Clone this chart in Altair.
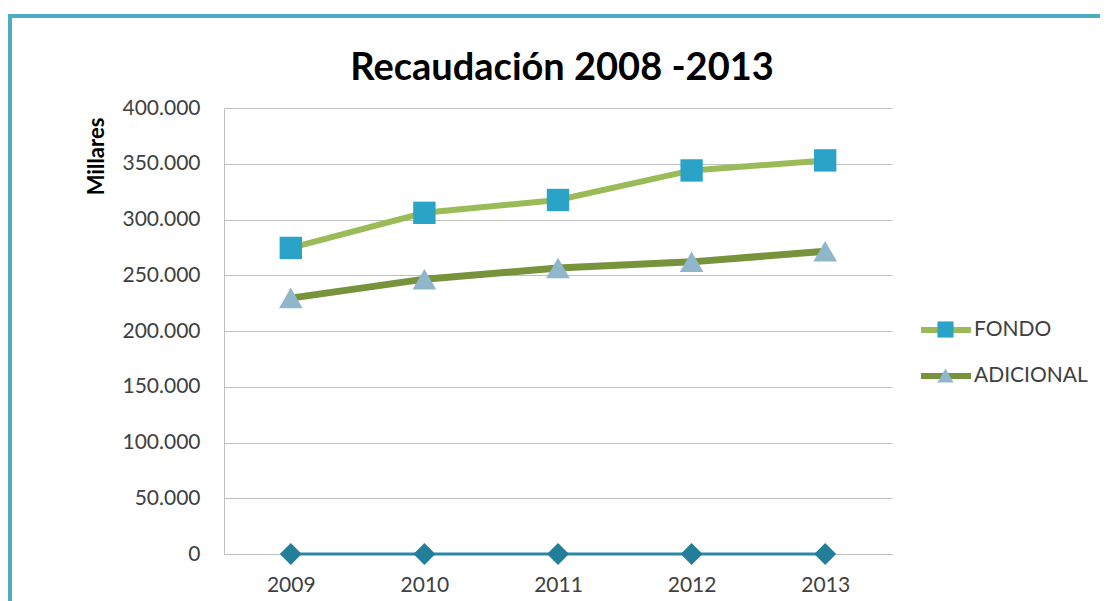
import altair as alt
import pandas as pd

years = ["2009", "2010", "2011", "2012", "2013"]
fondo = [274500, 306000, 317500, 344000, 353000]
adicional = [229500, 246500, 256500, 262000, 271500]
serie3 = [0, 0, 0, 0, 0]

series_names = ["FONDO", "ADICIONAL"]
marker_keys = ["m-FONDO", "m-ADICIONAL"]
size_keys = ["s-FONDO", "s-ADICIONAL"]
width_keys = ["w-FONDO", "w-ADICIONAL"]
line_colors = ["#9BBB59", "#77933C"]
line_widths = [6, 7]
marker_shapes = ["square", "triangle-up"]
marker_colors = ["#2AA3C6", "#8FB6CB"]
marker_sizes = [500, 560]

rows = []
for name, key, sk, wk, vals in zip(series_names, marker_keys, size_keys, width_keys, [fondo, adicional]):
    for yr, v in zip(years, vals):
        rows.append({"year": yr, "value": v, "series": name, "marker": key, "sz": sk, "w": wk})
df = pd.DataFrame(rows)
df3 = pd.DataFrame({"year": years, "value": serie3})

FONT = "Lato"
LABEL = "#404040"

x_enc = alt.X(
    "year:N", sort=years,
    scale=alt.Scale(type="point", padding=0.5),
    axis=alt.Axis(title=None, labelAngle=0, ticks=False, domain=True, domainColor="#BFBFBF",
                  labelFont=FONT, labelFontSize=21, labelColor=LABEL, labelPadding=20, grid=False),
)
y_enc = alt.Y(
    "value:Q",
    scale=alt.Scale(domain=[0, 400000], nice=False),
    axis=alt.Axis(
        values=list(range(0, 400001, 50000)),
        labelExpr="replace(format(datum.value, ','), ',', '.')",
        title="Millares", titleFont=FONT, titleFontSize=22, titleFontWeight="bold", titleColor="black",
        titleX=-128, titleY=48, titleAngle=270, titleAlign="center", titleBaseline="middle",
        ticks=False, labelPadding=24, labelFont=FONT, labelFontSize=21, labelColor=LABEL,
        grid=True, gridColor="#BFBFBF", gridWidth=1, domain=True, domainColor="#BFBFBF",
    ),
)

base = alt.Chart(df)

lines = base.mark_line().encode(
    x=x_enc, y=y_enc,
    color=alt.Color("series:N", scale=alt.Scale(domain=series_names, range=line_colors),
                    legend=alt.Legend(title=None, orient="none",
                                      legendX=694, legendY=194, symbolType="stroke", symbolSize=2500,
                                      symbolStrokeWidth=6, labelFont=FONT, labelFontSize=21,
                                      labelColor=LABEL, labelOffset=0, rowPadding=6, padding=0)),
    strokeWidth=alt.StrokeWidth("w:N", scale=alt.Scale(domain=width_keys, range=line_widths),
                                legend=None),
    detail="series:N",
)

mk_legend = alt.Legend(title=None, orient="none",
                       legendX=711, legendY=211, symbolSize=260, symbolStrokeWidth=0,
                       labelExpr="''", labelFontSize=21, rowPadding=24, padding=0)

points = base.mark_point(filled=True, opacity=1, strokeWidth=0).encode(
    x=x_enc, y=y_enc,
    shape=alt.Shape("marker:N", scale=alt.Scale(domain=marker_keys, range=marker_shapes), legend=mk_legend),
    fill=alt.Fill("marker:N", scale=alt.Scale(domain=marker_keys, range=marker_colors), legend=mk_legend),
    size=alt.Size("sz:N", scale=alt.Scale(domain=size_keys, range=marker_sizes), legend=None),
)

base3 = alt.Chart(df3)
line3 = base3.mark_line(color="#2B87A3", strokeWidth=3).encode(x=x_enc, y=y_enc)
points3 = base3.mark_point(filled=True, opacity=1, strokeWidth=0, shape="diamond",
                           size=480, color="#237F99").encode(x=x_enc, y=y_enc)

deco = alt.Chart(pd.DataFrame({"t": ["Recaudación 2008 -2013"]}))
title = deco.mark_text(font=FONT, fontSize=38, fontWeight="bold", color="black",
                       align="center", baseline="alphabetic").encode(
    text="t:N", x=alt.value(338), y=alt.value(-28))
frame = deco.mark_rect(fillOpacity=0, stroke="#4BACC6", strokeWidth=4).encode(
    x=alt.value(-214), x2=alt.value(1000), y=alt.value(-92), y2=alt.value(700))

chart = alt.layer(frame, lines, points, line3, points3, title).properties(
    width=668, height=446,
    padding={"left": 216, "top": 100, "right": 208, "bottom": 47},
    autosize=alt.AutoSizeParams(type="none"),
).configure_view(stroke=None)

chart.save("out.html", embed_options={"renderer": "svg", "actions": False})
